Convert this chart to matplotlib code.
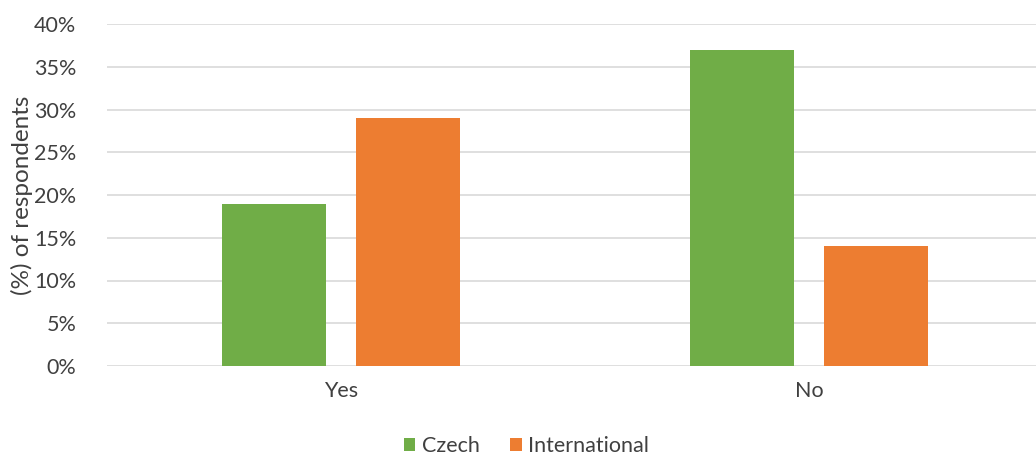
import matplotlib
matplotlib.use("Agg")
import matplotlib.pyplot as plt
import numpy as np

categories = ["Yes", "No"]
czech = [19, 37]
international = [29, 14]
yticks = [0, 5, 10, 15, 20, 25, 30, 35, 40]

plt.rcParams["font.family"] = ["Lato", "DejaVu Sans"]
txt = "#404040"

fig = plt.figure(figsize=(10.36, 4.59), dpi=100)
ax = fig.add_axes([107 / 1036, 1 - 366 / 459, 1 - 107 / 1036, (366 - 24) / 459])

x = np.arange(len(categories))
w = 0.224
off = 0.143
ax.bar(x - off, czech, w, color="#70ad47", label="Czech", zorder=3)
ax.bar(x + off, international, w, color="#ed7d31", label="International", zorder=3)

ax.set_xlim((107 - 341) / 468, (1036 - 341) / 468)
ax.set_ylim(0, 40)
ax.set_yticks(yticks)
ax.set_yticklabels([f"{t}%" for t in yticks], fontsize=15.5, color=txt)
ax.set_xticks(x)
ax.set_xticklabels(categories, fontsize=15.5, color=txt)
ax.tick_params(length=0, pad=11)
ax.tick_params(axis="y", pad=22)
ax.grid(axis="y", color="#d9d9d9", linewidth=1.2, zorder=0)
for s in ax.spines.values():
    s.set_visible(False)
ax.set_ylabel("(%) of respondents", fontsize=17.5, color=txt, labelpad=1)

fig.legend(loc="lower center", bbox_to_anchor=(0.508, -0.036), ncol=2, frameon=False,
           fontsize=15.5, handlelength=0.55, handleheight=0.55, handletextpad=0.3,
           columnspacing=1.4, labelcolor=txt)

fig.savefig("out.png", dpi=100)
